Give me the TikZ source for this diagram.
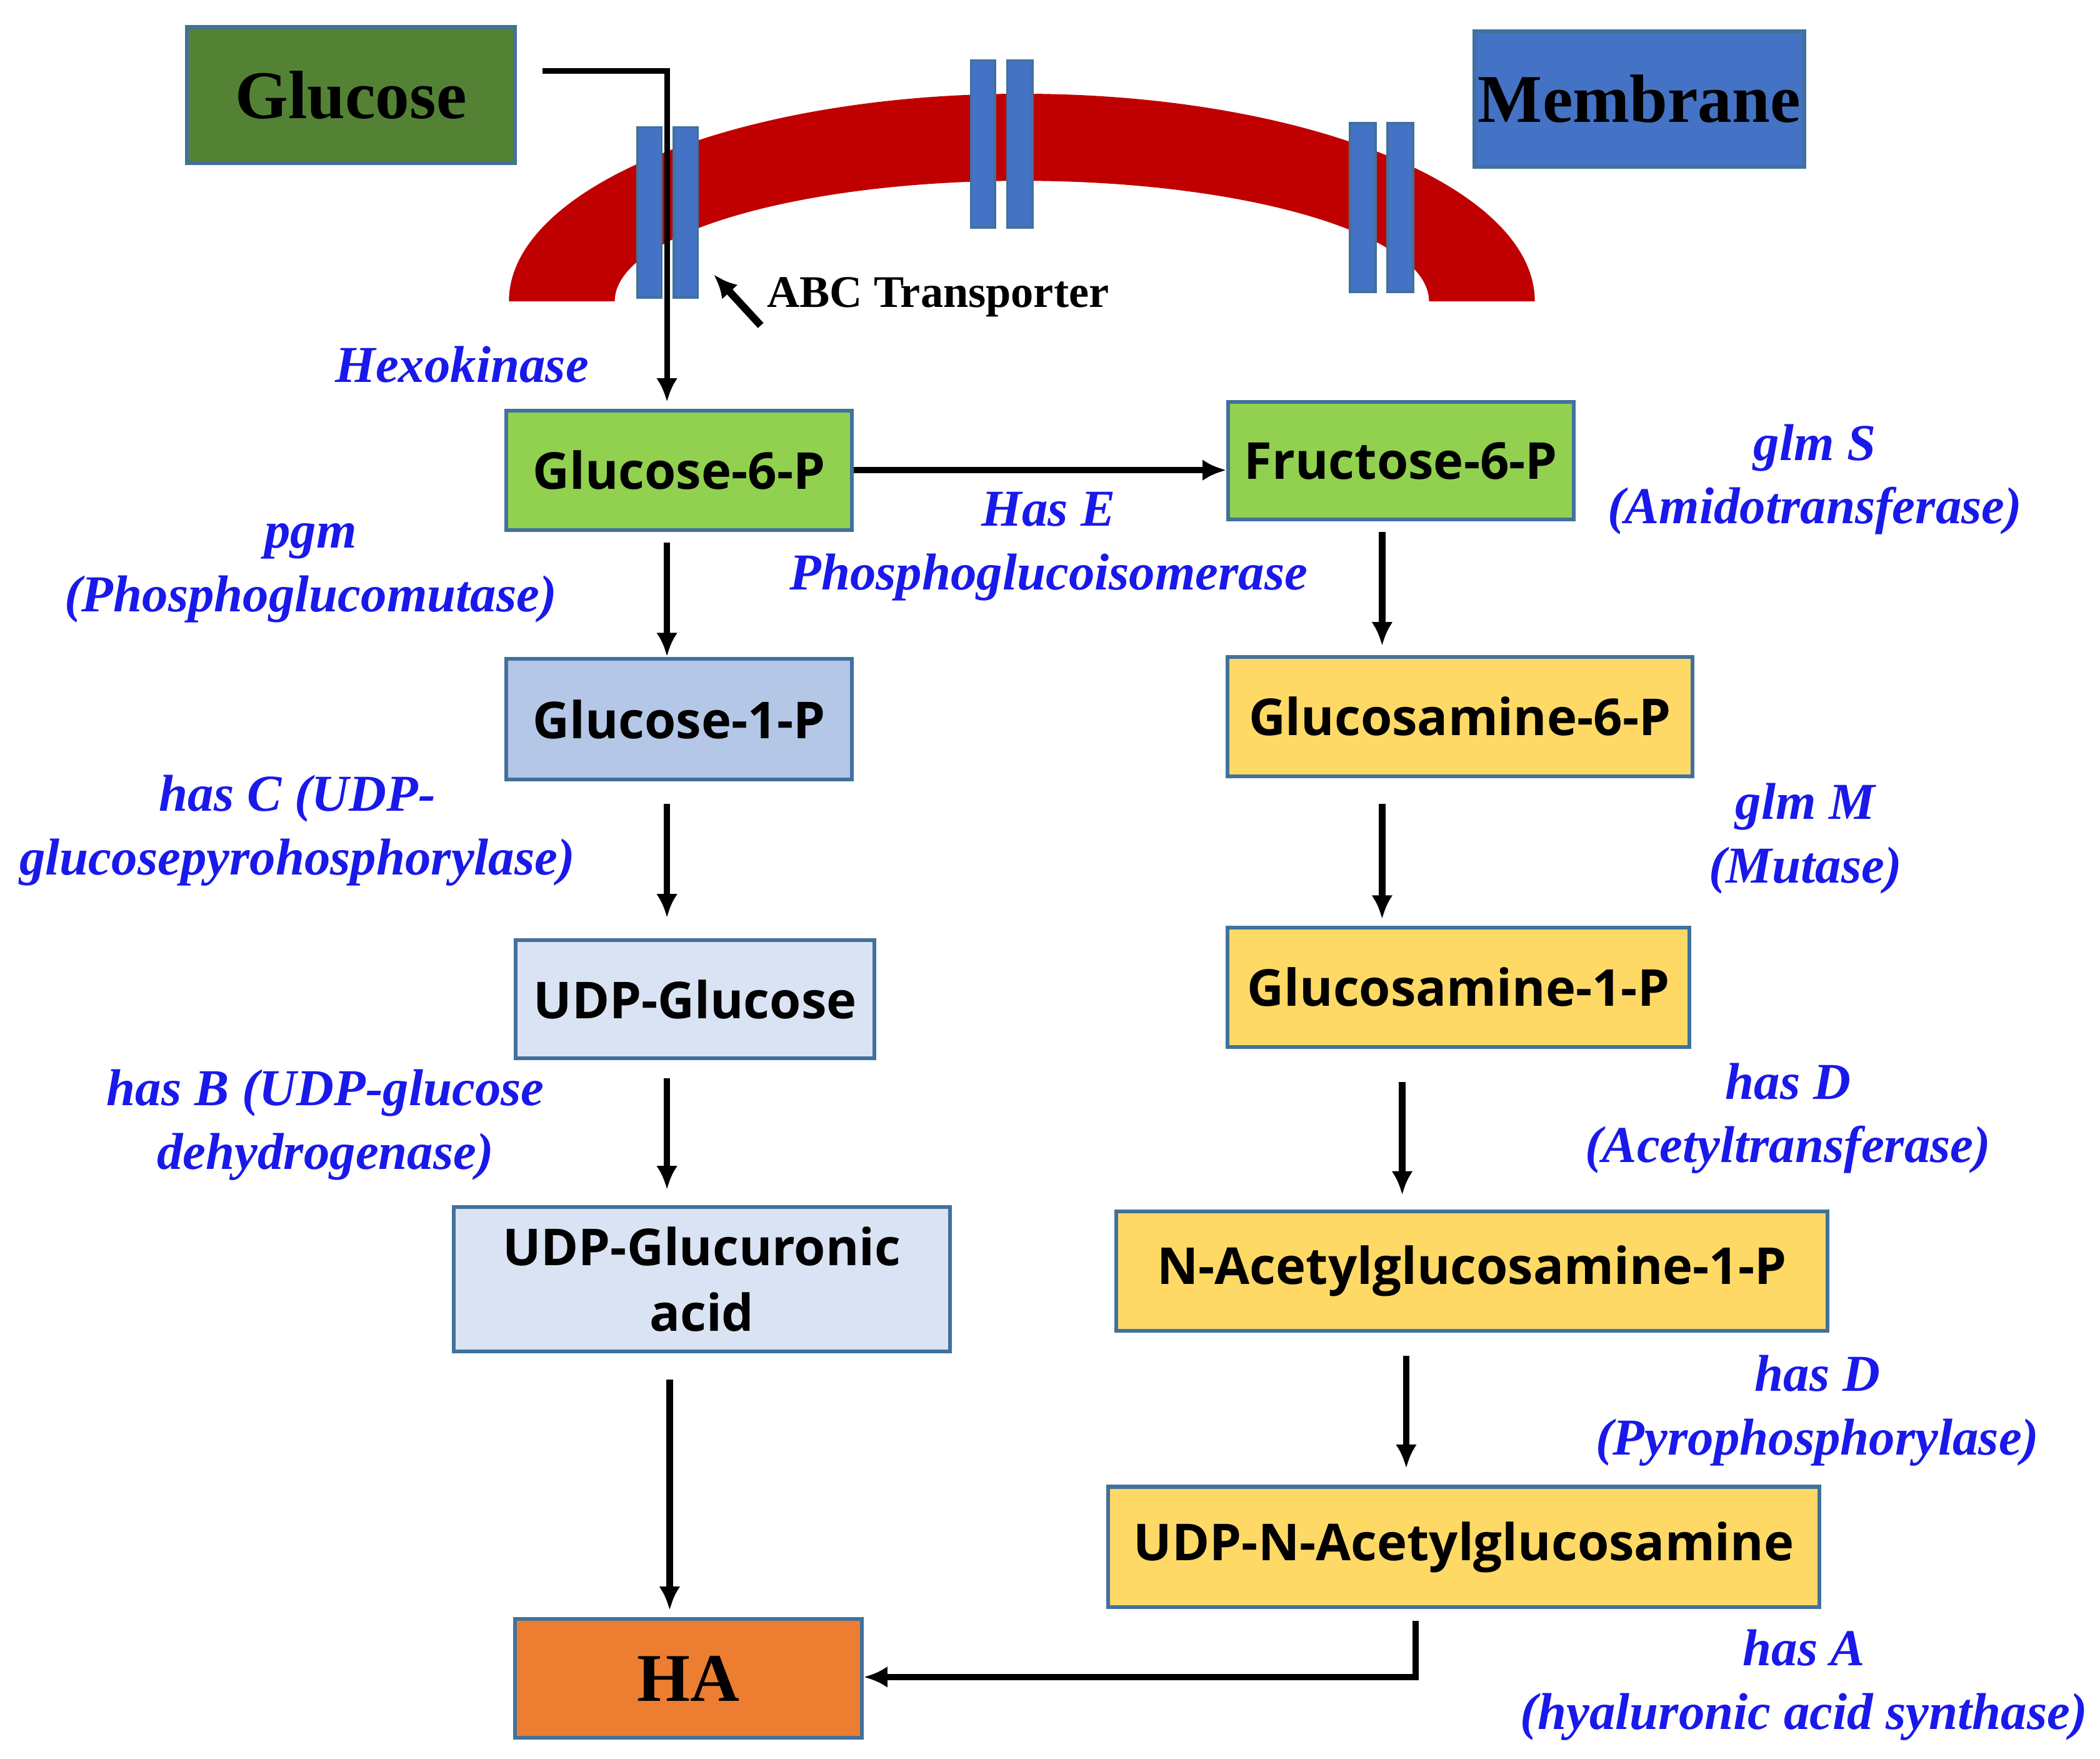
\documentclass[tikz,border=0pt]{standalone}
\usepackage{fontspec}
\setmainfont{Liberation Serif}
\newfontfamily\boxfont{Open Sans}
\usetikzlibrary{arrows.meta}
\definecolor{gcol}{HTML}{548235}
\definecolor{mcol}{HTML}{4472C4}
\definecolor{rcol}{HTML}{C00000}
\definecolor{lgreen}{HTML}{92D050}
\definecolor{lblue}{HTML}{B4C7E7}
\definecolor{llblue}{HTML}{DAE3F3}
\definecolor{ycol}{HTML}{FFD966}
\definecolor{ocol}{HTML}{ED7D31}
\definecolor{bord}{HTML}{41719C}
\definecolor{enz}{RGB}{25,25,235}
\begin{document}
\begin{tikzpicture}[x=0.01cm,y=-0.01cm,
 box/.style={draw=bord,line width=0.8pt,inner sep=0pt,font=\boxfont\bfseries\fontsize{10.8}{14}\selectfont,align=center},
 big/.style={draw=bord,line width=0.8pt,inner sep=0pt,font=\bfseries\fontsize{14.5}{18}\selectfont},
 enzl/.style={text=enz,font=\bfseries\itshape\fontsize{11}{13.5}\selectfont,align=center},
 arr/.style={-{Latex[length=5pt,width=4.5pt]},line width=1.4pt},
 tp/.style={fill=mcol,draw=bord,line width=0.5pt}]
\useasboundingbox (0,0) rectangle (1568,1313);
% membrane
\fill[rcol] (380,225) arc[start angle=180,end angle=360,x radius=383,y radius=155] -- (1067,225) arc[start angle=360,end angle=180,x radius=304,y radius=90] -- cycle;
\draw[tp] (476,95) rectangle (494,222);
\draw[tp] (503,95) rectangle (521,222);
\draw[tp] (725,45) rectangle (743,170);
\draw[tp] (752,45) rectangle (771,170);
\draw[tp] (1008,92) rectangle (1027,218);
\draw[tp] (1036,92) rectangle (1055,218);
\node[big,fill=gcol,minimum width=2.45cm,minimum height=1.02cm] (glc) at (262,71) {Glucose};
\node[big,fill=mcol,minimum width=2.46cm,minimum height=1.01cm] (mem) at (1224,74) {Membrane};
\coordinate (abcs) at (568,243);
\coordinate (abce) at (533,205);
\draw[arr,line width=1.6pt] (abcs) -- (abce);
\node[anchor=west,inner sep=0pt,font=\bfseries\fontsize{9.6}{12}\selectfont] (abc) at (572,222) {ABC Transporter};
% boxes
\node[box,fill=lgreen,minimum width=2.58cm,minimum height=0.89cm] (g6p) at (507,351) {Glucose-6-P};
\node[box,fill=lgreen,minimum width=2.58cm,minimum height=0.88cm] (f6p) at (1046,344) {Fructose-6-P};
\node[box,fill=lblue,minimum width=2.58cm,minimum height=0.90cm] (g1p) at (507,537) {Glucose-1-P};
\node[box,fill=llblue,minimum width=2.68cm,minimum height=0.88cm] (udpg) at (519,746) {UDP-Glucose};
\node[box,fill=llblue,minimum width=3.70cm,minimum height=1.08cm] (udpga) at (524,955) {UDP-Glucuronic\\acid};
\node[big,fill=ocol,minimum width=2.59cm,minimum height=0.89cm] (ha) at (514,1253) {HA};
\node[box,fill=ycol,minimum width=3.47cm,minimum height=0.89cm] (gn6p) at (1090,535) {Glucosamine-6-P};
\node[box,fill=ycol,minimum width=3.45cm,minimum height=0.89cm] (gn1p) at (1089,737) {Glucosamine-1-P};
\node[box,fill=ycol,minimum width=5.31cm,minimum height=0.89cm] (nag) at (1099,949) {N-Acetylglucosamine-1-P};
\node[box,fill=ycol,minimum width=5.31cm,minimum height=0.90cm] (udpn) at (1093,1155) {UDP-N-Acetylglucosamine};
% arrows
\coordinate (gs) at (405,53);
\draw[arr,line width=1.2pt] (gs) -- (498,53) -- (498,300);
\draw[arr] (g6p.east) -- (f6p.west |- g6p.east);
\draw[arr] (498,405) -- (498,490);
\draw[arr] (498,600) -- (498,685);
\draw[arr] (498,805) -- (498,888);
\draw[arr] (500,1030) -- (500,1202);
\draw[arr] (1032,397) -- (1032,482);
\draw[arr] (1032,600) -- (1032,686);
\draw[arr] (1047,808) -- (1047,892);
\draw[arr] (1050,1012) -- (1050,1096);
\draw[arr] (1057,1210) -- (1057,1252) -- (ha.east |- 0,1252);
% labels
\node[enzl] (hk) at (345,272) {Hexokinase};
\node[enzl] (pgi) at (783,408) {Has E\\Phosphoglucoisomerase};
\node[enzl] (glms) at (1355,358) {glm S\\(Amidotransferase)};
\node[enzl] (pgm) at (232,428) {pgm\\(Phosphoglucomutase)};
\node[enzl] (hasc) at (222,620) {has C (UDP-\\glucosepyrohosphorylase)};
\node[enzl] (hasb) at (243,840) {has B (UDP-glucose\\dehydrogenase)};
\node[enzl] (glmm) at (1348,626) {glm M\\(Mutase)};
\node[enzl] (hasd1) at (1335,835) {has D\\(Acetyltransferase)};
\node[enzl] (hasd2) at (1357,1053) {has D\\(Pyrophosphorylase)};
\node[enzl] (hasa) at (1347,1258) {has A\\(hyaluronic acid synthase)};
\end{tikzpicture}
\end{document}
